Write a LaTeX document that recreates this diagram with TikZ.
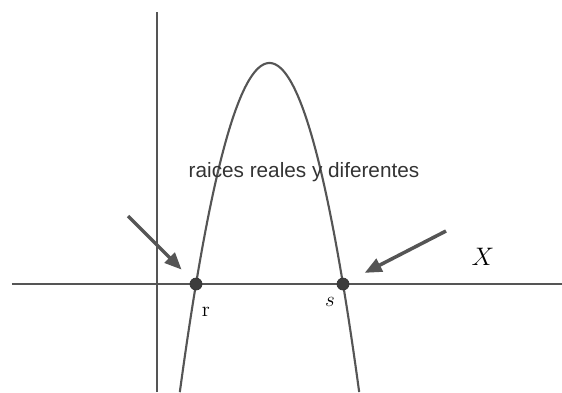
\documentclass[tikz,border=0pt]{standalone}
\usepackage{fontspec}
\newfontfamily\arialfont{Liberation Sans}
\usetikzlibrary{arrows.meta}
\definecolor{axisgray}{HTML}{555555}
\definecolor{dotgray}{HTML}{3C3C3C}
\definecolor{textgray}{HTML}{333333}
\begin{document}
\begin{tikzpicture}[>={Triangle[length=0.34cm,width=0.28cm]}]
\useasboundingbox (-3.14,-2.16) rectangle (8.1,5.68);
\draw[axisgray, line width=1.5pt] (-2.9,0) -- (8.1,0);
\draw[axisgray, line width=1.5pt] (0,-2.16) -- (0,5.44);
\draw[axisgray, line width=1.2pt, domain=0.456:4.044, samples=100] plot (\x, {4.42-2.0455*(\x-2.25)^2});
\node[draw=black!80, fill=dotgray, circle, inner sep=0pt, minimum size=0.24cm] (r) at (0.78,0) {};
\node[draw=black!80, fill=dotgray, circle, inner sep=0pt, minimum size=0.24cm] (s) at (3.72,0) {};
\node at (0.98,-0.56) {\large r};
\node at (3.46,-0.36) {\large $s$};
\node at (6.52,0.54) {\Large $X$};
\node[textgray] (t) at (2.94,2.24) {\arialfont\fontsize{11.8}{14}\selectfont raices reales y diferentes};
\coordinate (ra) at (-0.58,1.36);
\coordinate (sa) at (5.78,1.06);
\draw[->, axisgray, line width=2pt, shorten >=0.28cm] (ra) -- (r);
\draw[->, axisgray, line width=2pt, shorten >=0.36cm] (sa) -- (s);
\end{tikzpicture}
\end{document}
